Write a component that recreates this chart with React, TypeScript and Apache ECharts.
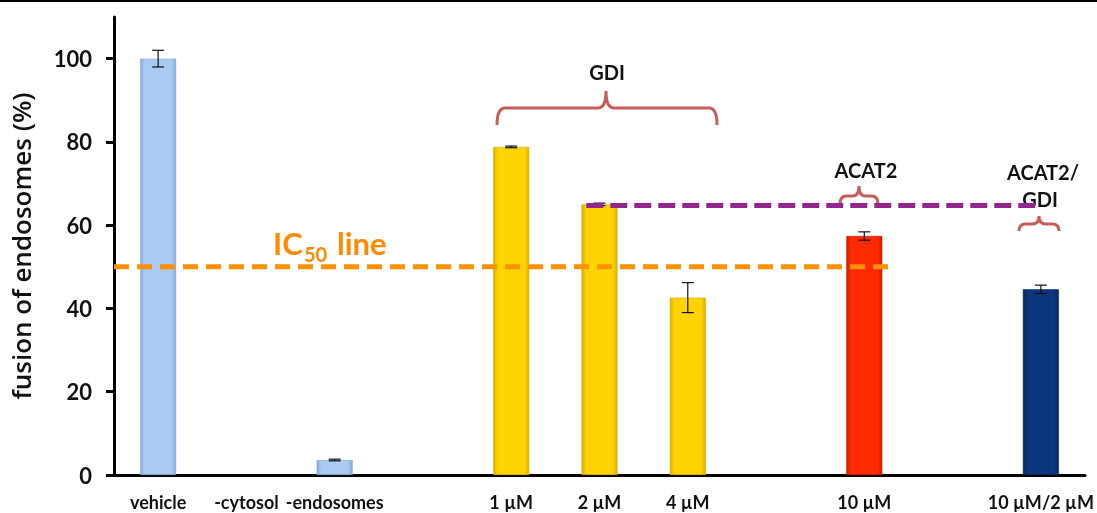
import React, { useEffect, useRef } from 'react';
import * as echarts from 'echarts';

const categories = ['vehicle', '-cytosol', '-endosomes', '', '1 µM', '2 µM', '4 µM', '', '10 µM', '', '10 µM/2 µM'];
const values: (number | null)[] = [100, 0, 3.6, null, 78.8, 65, 42.6, null, 57.4, null, 44.6];
const errors: (number | null)[] = [2, 0, 0.2, null, 0.2, 0.3, 3.6, null, 1, null, 1];
const barBase = ['#A9CBF2', '#A9CBF2', '#A9CBF2', '', '#FFD300', '#FFD300', '#FFD300', '', '#FF2A00', '', '#0B377C'];
const barEdge = ['#86A9D4', '#86A9D4', '#86A9D4', '', '#D9AE00', '#D9AE00', '#D9AE00', '', '#C81E00', '', '#06275C'];
const yTicks = [0, 20, 40, 60, 80, 100];

// reference lines (x in category-slot units, y in %)
const ic50Line = [[0, 50], [8.79, 50]];
const gdiRefLine = [[5.35, 64.7], [10.47, 64.7]];

function bracketPath(x1: number, x2: number, xm: number, yTop: number, yEnd: number, yPeak: number) {
  const r = Math.min(8, (x2 - x1) / 6);
  return `M${x1} ${yEnd} Q${x1} ${yTop} ${x1 + r} ${yTop} L${xm - r} ${yTop} Q${xm} ${yTop} ${xm} ${yPeak} Q${xm} ${yTop} ${xm + r} ${yTop} L${x2 - r} ${yTop} Q${x2} ${yTop} ${x2} ${yEnd}`;
}

echarts.graphic.registerShape('bracketGdi', echarts.graphic.extendPath(bracketPath(497, 717, 606, 108, 125, 91), {}));
echarts.graphic.registerShape('bracketAcat', echarts.graphic.extendPath(bracketPath(840, 878, 859, 196, 204, 186), {}));
echarts.graphic.registerShape('bracketCombo', echarts.graphic.extendPath(bracketPath(1019, 1059, 1039, 224, 231, 216), {}));

const FONT = 'Lato';
const bracketStyle = { stroke: '#C65D59', lineWidth: 3, fill: 'none' };

export default function App() {
  const ref = useRef<HTMLDivElement>(null);
  useEffect(() => {
    if (!ref.current) return;
    const chart = echarts.init(ref.current, undefined, { renderer: 'svg' });
    const barData = values.map((v, i) =>
      v == null
        ? '-'
        : {
            value: v,
            itemStyle: {
              color: new echarts.graphic.LinearGradient(0, 0, 1, 0, [
                { offset: 0, color: barEdge[i] },
                { offset: 0.12, color: barBase[i] },
                { offset: 0.88, color: barBase[i] },
                { offset: 1, color: barEdge[i] },
              ]),
              borderColor: barEdge[i],
              borderWidth: v > 0 ? 0.6 : 0,
            },
          }
    );
    const errData: number[][] = [];
    values.forEach((v, i) => {
      if (v != null && errors[i] != null && v > 0) errData.push([i, v, errors[i] as number]);
    });
    const textStyle = (size: number) => ({ fill: '#111', font: `bold ${size}px ${FONT}`, textAlign: 'center', textVerticalAlign: 'middle' });
    chart.setOption({
      animation: false,
      grid: { left: 105, right: 12, top: 17, bottom: 38 },
      xAxis: [
        {
          type: 'category',
          data: categories,
          axisLine: { lineStyle: { color: '#000', width: 3 } },
          axisTick: { show: false },
          axisLabel: { interval: 0, color: '#111', fontFamily: FONT, fontWeight: 'bold', fontSize: 18, lineHeight: 18, margin: 18 },
        },
        { type: 'value', min: 0, max: 11, show: false },
      ],
      yAxis: {
        type: 'value',
        min: 0,
        max: 110,
        interval: 20,
        splitLine: { show: false },
        axisLine: { show: true, lineStyle: { color: '#000', width: 3 } },
        axisTick: { show: true, length: 8, lineStyle: { color: '#000', width: 3 }, customValues: yTicks },
        axisLabel: {
          color: '#111',
          fontFamily: FONT,
          fontWeight: 'bold',
          fontSize: 22,
          margin: 22,
          customValues: yTicks,
          formatter: (v: number) => (v > 100 ? '' : String(v)),
        },
        name: 'fusion of endosomes (%)',
        nameLocation: 'middle',
        nameRotate: 90,
        nameGap: 80,
        nameTextStyle: { fontFamily: 'Open Sans', fontSize: 26, fontWeight: 600, color: '#111' },
      },
      series: [
        { type: 'bar', data: barData, barWidth: 36 },
        {
          type: 'custom',
          data: errData,
          z: 5,
          encode: { x: 0, y: 1 },
          renderItem: (params: any, api: any) => {
            const i = api.value(0);
            const v = api.value(1);
            const e = api.value(2);
            const top = api.coord([i, v + e]);
            const bot = api.coord([i, v - e]);
            const w = 6;
            const st = { stroke: '#111', lineWidth: 1.2 };
            return {
              type: 'group',
              children: [
                { type: 'line', shape: { x1: top[0], y1: top[1], x2: bot[0], y2: bot[1] }, style: st },
                { type: 'line', shape: { x1: top[0] - w, y1: top[1], x2: top[0] + w, y2: top[1] }, style: st },
                { type: 'line', shape: { x1: bot[0] - w, y1: bot[1], x2: bot[0] + w, y2: bot[1] }, style: st },
              ],
            };
          },
        },
        {
          type: 'line',
          xAxisIndex: 1,
          data: ic50Line,
          symbol: 'none',
          z: 6,
          lineStyle: { color: '#FF9000', width: 5, type: [15, 8] },
        },
        {
          type: 'line',
          xAxisIndex: 1,
          data: gdiRefLine,
          symbol: 'none',
          z: 6,
          lineStyle: { color: '#93278F', width: 5, type: [17, 7] },
        },
      ],
      graphic: [
        { type: 'rect', left: 0, top: 0, shape: { width: 1097, height: 2 }, style: { fill: '#000' } },
        { type: 'bracketGdi', x: 0, y: 0, style: bracketStyle },
        { type: 'bracketAcat', x: 0, y: 0, style: bracketStyle },
        { type: 'bracketCombo', x: 0, y: 0, style: bracketStyle },
        { type: 'text', x: 607, y: 72, style: { text: 'GDI', ...textStyle(20) } },
        { type: 'text', x: 866, y: 170, style: { text: 'ACAT2', ...textStyle(20) } },
        { type: 'text', x: 1043, y: 172, style: { text: 'ACAT2/', ...textStyle(20) } },
        { type: 'text', x: 1040, y: 199, style: { text: 'GDI', ...textStyle(20) } },
        {
          type: 'text',
          x: 273,
          y: 258,
          style: { text: 'IC', fill: '#FF8A00', font: `bold 31px ${FONT}`, textAlign: 'left', textVerticalAlign: 'bottom' },
        },
        {
          type: 'text',
          x: 304,
          y: 264,
          style: { text: '50', fill: '#FF8A00', font: `bold 20px ${FONT}`, textAlign: 'left', textVerticalAlign: 'bottom' },
        },
        {
          type: 'text',
          x: 337,
          y: 258,
          style: { text: 'line', fill: '#FF8A00', font: `bold 31px ${FONT}`, textAlign: 'left', textVerticalAlign: 'bottom' },
        },
      ],
    });
    return () => chart.dispose();
  }, []);
  return <div ref={ref} style={{ position: 'fixed', left: 0, top: 0, width: 1097, height: 513 }} />;
}
